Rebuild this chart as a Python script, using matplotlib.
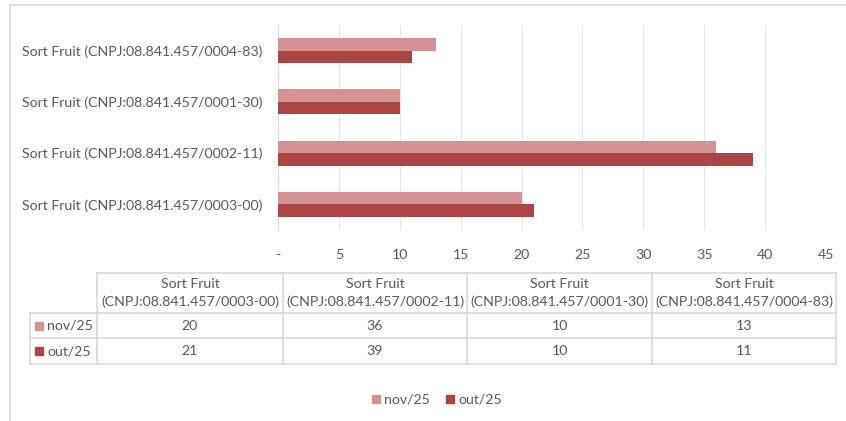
import matplotlib.pyplot as plt
from matplotlib.patches import Rectangle
from matplotlib.lines import Line2D

# data (bottom to top on the chart, same order as the table columns)
categories = ['Sort Fruit (CNPJ:08.841.457/0003-00)',
              'Sort Fruit (CNPJ:08.841.457/0002-11)',
              'Sort Fruit (CNPJ:08.841.457/0001-30)',
              'Sort Fruit (CNPJ:08.841.457/0004-83)']
series_names = ['nov/25', 'out/25']
nov_values = [20, 36, 10, 13]
out_values = [21, 39, 10, 11]
x_ticks = [0, 5, 10, 15, 20, 25, 30, 35, 40, 45]
x_tick_labels = ['-', '5', '10', '15', '20', '25', '30', '35', '40', '45']

light = '#D39392'
dark = '#AB4543'
txt = '#595959'
grid = '#D9D9D9'
fs = 10.2
plt.rcParams['font.family'] = ['Lato', 'DejaVu Sans']

W, H = 846, 421
fig = plt.figure(figsize=(W / 100, H / 100), dpi=100)


def fx(px):
    return px / W


def fy(py):
    return 1 - py / H


# chart frame (only top and left visible)
fig.add_artist(Line2D([fx(10), fx(846)], [fy(5), fy(5)], color=grid, lw=1.2))
fig.add_artist(Line2D([fx(10), fx(10)], [fy(5), fy(421)], color=grid, lw=1.2))

# bar chart
ax = fig.add_axes([fx(278), fy(230), fx(826) - fx(278), fy(25) - fy(230)])
y = list(range(len(categories)))
h = 0.245
ax.barh([i + h / 2 for i in y], nov_values, height=h, color=light, zorder=3)
ax.barh([i - h / 2 for i in y], out_values, height=h, color=dark, zorder=3)
ax.set_xlim(0, 45)
ax.set_ylim(-0.5, len(categories) - 0.5)
ax.set_xticks(x_ticks)
ax.set_xticklabels(x_tick_labels)
ax.set_yticks(y)
ax.set_yticklabels(categories)
ax.xaxis.grid(True, color='#E6E6E6', lw=0.75, zorder=0)
for s in ['top', 'right', 'bottom']:
    ax.spines[s].set_visible(False)
ax.spines['left'].set_color(grid)
ax.tick_params(axis='both', length=0, colors=txt, labelsize=fs)
ax.tick_params(axis='x', pad=14)
ax.tick_params(axis='y', pad=11)

# data table
col_edges = [97, 283, 467, 652, 836]
row_edges = [273, 313, 338, 364]
tab_left = 30
for xe in col_edges:
    fig.add_artist(Line2D([fx(xe), fx(xe)], [fy(row_edges[0]), fy(row_edges[-1])], color=grid, lw=1.2))
fig.add_artist(Line2D([fx(tab_left), fx(tab_left)], [fy(row_edges[1]), fy(row_edges[-1])], color=grid, lw=1.2))
fig.add_artist(Line2D([fx(col_edges[0]), fx(col_edges[-1])], [fy(row_edges[0]), fy(row_edges[0])], color=grid, lw=1.2))
for ye in row_edges[1:]:
    fig.add_artist(Line2D([fx(tab_left), fx(col_edges[-1])], [fy(ye), fy(ye)], color=grid, lw=1.2))

for j, cat in enumerate(categories):
    cx = (col_edges[j] + col_edges[j + 1]) / 2
    name, code = cat.split(' (')
    fig.text(fx(cx), fy(284), name, ha='center', va='center', color=txt, fontsize=fs)
    fig.text(fx(cx), fy(302), '(' + code, ha='center', va='center', color=txt, fontsize=fs)

for r, (sname, vals, col) in enumerate([(series_names[0], nov_values, light),
                                        (series_names[1], out_values, dark)]):
    cy = (row_edges[r + 1] + row_edges[r + 2]) / 2
    fig.add_artist(Rectangle((fx(35), fy(cy + 4)), fx(8), fy(0) - fy(8), color=col))
    fig.text(fx(47), fy(cy), sname, ha='left', va='center', color=txt, fontsize=fs)
    for j, v in enumerate(vals):
        cx = (col_edges[j] + col_edges[j + 1]) / 2
        fig.text(fx(cx), fy(cy), str(v), ha='center', va='center', color=txt, fontsize=fs)

# legend
leg_items = [(series_names[0], light, 372), (series_names[1], dark, 446)]
for name, col, lx in leg_items:
    fig.add_artist(Rectangle((fx(lx), fy(403)), fx(8), fy(0) - fy(8), color=col))
    fig.text(fx(lx + 12), fy(399), name, ha='left', va='center', color=txt, fontsize=fs)

fig.savefig('out.png', dpi=100)
